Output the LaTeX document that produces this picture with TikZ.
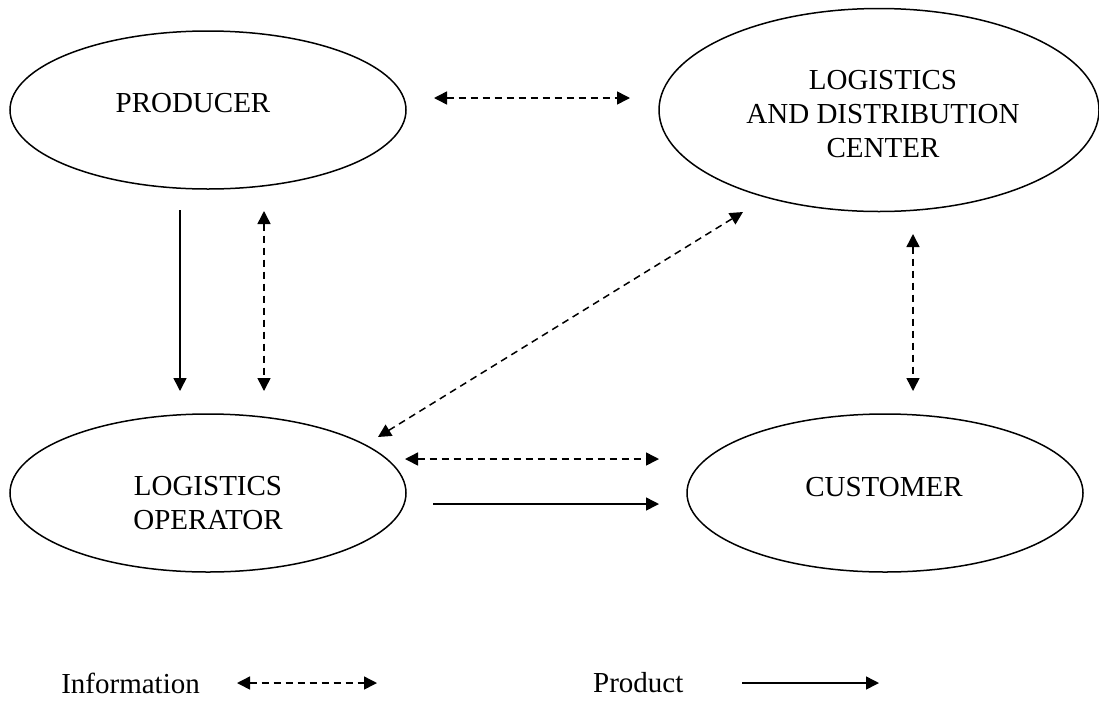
\documentclass[tikz,border=0pt]{standalone}
\usepackage{fontspec}
\setmainfont{Liberation Serif}
\usetikzlibrary{shapes.geometric,arrows.meta}
\tikzset{
    party/.style = {draw, ellipse, line width=1.5pt, inner sep=0pt},
    party-text/.style = {align=center, inner sep=0pt, font=\fontsize{29}{34}\selectfont},
    info/.style = {line width=1.5pt, dash pattern=on 7pt off 5pt, {Triangle[length=13pt,width=13pt]}-{Triangle[length=13pt,width=13pt]}},
    product/.style = {line width=1.5pt, -{Triangle[length=13pt,width=13pt]}},
}

\begin{document}
\begin{tikzpicture}[x=1pt, y=-1pt]
\useasboundingbox (0,0) rectangle (1099,702);
\node[party, minimum width=396pt, minimum height=158pt] (producer) at (208,110) {};
\node[party, minimum width=440pt, minimum height=203pt] (center) at (879,110) {};
\node[party, minimum width=396pt, minimum height=158pt] (operator) at (208,493) {};
\node[party, minimum width=396pt, minimum height=158pt] (customer) at (885,493) {};
\node[party-text] (producer-text) at ([shift={(-15,-7)}]producer.center) {PRODUCER};
\node[party-text] (center-text) at ([shift={(4,4)}]center.center) {LOGISTICS\\AND DISTRIBUTION\\CENTER};
\node[party-text] (operator-text) at ([shift={(0,10)}]operator.center) {LOGISTICS\\OPERATOR};
\node[party-text] (customer-text) at ([shift={(-1,-6)}]customer.center) {CUSTOMER};

\coordinate (pc-a) at (434,98);
\coordinate (pc-b) at (630,98);
\coordinate (po-a) at (180,210);
\coordinate (po-b) at (180,391);
\coordinate (po-c) at (264,211);
\coordinate (po-d) at (264,391);
\coordinate (oc-a) at (378,437);
\coordinate (oc-b) at (743,212);
\coordinate (cc-a) at (913,234);
\coordinate (cc-b) at (913,391);
\coordinate (ou-a) at (405,459);
\coordinate (ou-b) at (659,459);
\coordinate (ou-c) at (433,504);
\coordinate (ou-d) at (659,504);

\draw[info] (pc-a) -- (pc-b);
\draw[product] (po-a) -- (po-b);
\draw[info] (po-c) -- (po-d);
\draw[info] (oc-a) -- (oc-b);
\draw[info] (cc-a) -- (cc-b);
\draw[info] (ou-a) -- (ou-b);
\draw[product] (ou-c) -- (ou-d);

\node[party-text, anchor=east] (info-label) at (200,683) {Information};
\coordinate (info-a) at (237,683);
\coordinate (info-b) at (377,683);
\draw[info] (info-a) -- (info-b);
\node[party-text, anchor=west] (product-label) at (593,683) {Product};
\coordinate (product-a) at (742,683);
\coordinate (product-b) at (879,683);
\draw[product] (product-a) -- (product-b);
\end{tikzpicture}
\end{document}
